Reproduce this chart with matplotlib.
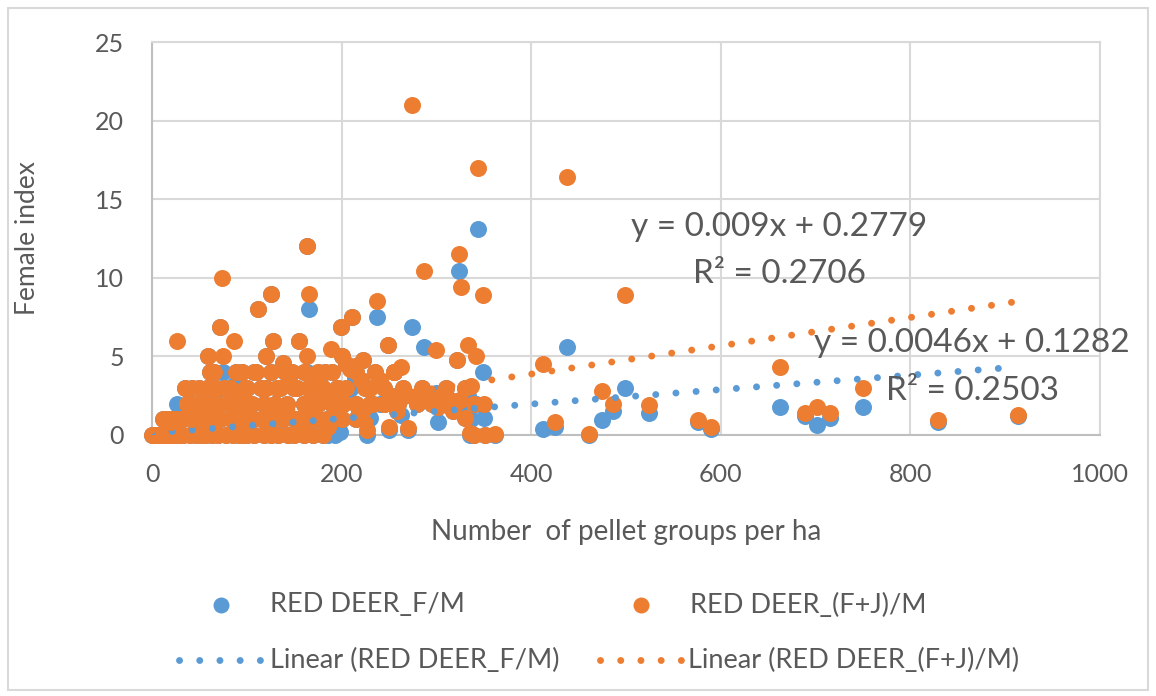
import matplotlib
matplotlib.use("Agg")
import matplotlib.pyplot as plt
from matplotlib.lines import Line2D
from matplotlib.patches import Rectangle
import numpy as np

# pellet groups per ha, F/M index, (F+J)/M index (one entry per site)
pellets = [0, 3, 8, 12, 15, 20, 22, 26, 28, 30, 35, 37, 40, 42, 45, 48, 50, 52, 55, 59,
           61, 63, 65, 68, 72, 74, 75, 76, 78, 80, 83, 85, 87, 89, 92, 95, 98, 100, 103, 106,
           110, 112, 115, 118, 120, 122, 125, 126, 128, 130, 133, 135, 138, 140, 143, 145, 148, 150, 153, 155,
           158, 160, 163, 164, 166, 168, 170, 172, 175, 178, 180, 183, 186, 189, 191, 193, 196, 199, 200, 202,
           205, 209, 211, 214, 218, 220, 223, 227, 230, 233, 237, 240, 245, 249, 250, 253, 255, 258, 263, 266,
           270, 274, 280, 287, 290, 295, 300, 302, 305, 310, 314, 318, 322, 324, 325, 326, 330, 333, 335, 337,
           340, 342, 344, 349, 350, 351, 362, 412, 425, 438, 461, 475, 486, 499, 524, 576, 590, 662, 689, 701,
           715, 750, 829, 913,
           5, 11, 18, 25, 33, 46, 57, 70, 95, 108, 125, 150, 160, 170, 180,
           16, 24, 32, 50, 58, 72, 90, 98, 115, 128, 138, 155, 165, 185, 200, 215, 225,
           40, 55, 62, 70, 85, 92, 105, 118, 130, 142, 160, 175, 190, 215, 230, 245, 260, 280, 300, 320, 340,
           42, 58, 68, 82, 100, 120, 132, 150, 165, 180, 195, 205, 225, 245, 265, 285, 310, 330,
           65, 95, 108, 140, 160, 175, 190, 215, 235, 255, 198]
f_m = [0, 0, 0, 1.0, 0, 1.0, 0, 2.0, 1.0, 0, 3.0, 2.0, 0, 1.0, 1.5, 2.0, 3.0, 0, 1.0, 5.0,
       4.0, 0, 2.0, 1.0, 6.9, 3.0, 4.0, 3.0, 0, 2.0, 1.0, 0, 3.2, 4.0, 0, 2.5, 3.0, 0, 2.0, 1.0,
       4.0, 8.0, 3.0, 0, 5.0, 1.0, 9.0, 4.0, 6.0, 2.0, 0, 3.0, 4.6, 1.5, 0, 3.5, 4.0, 1.0, 3.0, 6.0,
       0.5, 2.0, 4.0, 12.0, 8.0, 3.0, 2.0, 3.5, 1.0, 3.0, 2.5, 4.0, 0, 2.7, 0.1, 0, 3.0, 6.9, 5.0, 2.0,
       4.5, 2.9, 7.5, 3.6, 1.5, 3.5, 4.8, 0, 1.1, 2.0, 7.5, 2.0, 2.0, 5.7, 0.3, 2.5, 4.0, 1.5, 1.3, 2.5,
       0.3, 6.9, 2.0, 5.6, 2.5, 2.0, 2.7, 0.8, 2.5, 2.2, 2.2, 1.5, 4.8, 10.45, 2.2, 2.0, 1.1, 2.5, 0, 1.0,
       0, 2.0, 13.1, 4.0, 1.1, 0, 0, 0.4, 0.5, 5.6, 0, 0.95, 1.5, 3.0, 1.4, 0.8, 0.4, 1.8, 1.2, 0.65,
       1.1, 1.8, 0.8, 1.2,
       0, 0, 0, 0, 0, 0, 0, 0, 0, 0, 0, 0, 0, 0, 0,
       1, 1, 1, 1, 1, 1, 1, 1, 1, 1, 1, 1, 1, 1, 1, 1, 1,
       2, 2, 2, 2, 2, 2, 2, 2, 2, 2, 2, 2, 2, 2, 2, 2, 2, 2, 2, 2, 2,
       3, 3, 3, 3, 3, 3, 3, 3, 3, 3, 3, 3, 3, 3, 3, 3, 3, 3,
       4, 4, 4, 4, 4, 4, 4, 4, 4, 4, 0.2]
fj_m = [0, 0, 0, 1.0, 0, 1.0, 0, 6.0, 1.0, 0, 3.0, 2.0, 0, 1.0, 1.5, 2.0, 3.0, 0, 1.0, 5.0,
        4.0, 0, 2.0, 1.0, 6.9, 10.0, 5.0, 3.0, 0, 2.0, 1.0, 0, 6.0, 4.0, 0, 2.5, 3.0, 0, 2.0, 1.0,
        4.0, 8.0, 3.0, 0, 5.0, 1.0, 9.0, 4.0, 6.0, 2.0, 0, 3.0, 4.6, 1.5, 0, 3.5, 4.0, 1.0, 3.0, 6.0,
        0.5, 2.0, 5.0, 12.0, 9.0, 3.0, 2.0, 3.5, 1.0, 3.0, 2.5, 4.0, 0.5, 5.5, 1.0, 2.0, 3.0, 6.9, 5.0, 2.0,
        4.5, 4.2, 7.5, 4.4, 1.5, 3.5, 4.8, 0.3, 3.0, 2.0, 8.5, 3.5, 2.0, 5.7, 0.5, 2.5, 4.0, 1.5, 4.3, 2.5,
        0.45, 21.0, 2.5, 10.45, 2.5, 2.0, 5.4, 1.8, 2.5, 2.2, 2.2, 1.5, 4.8, 11.5, 2.2, 9.4, 1.1, 5.7, 0.1, 3.1,
        0, 5.0, 17.0, 8.9, 2.0, 0, 0.05, 4.5, 0.8, 16.4, 0.05, 2.8, 2.0, 8.9, 1.9, 0.95, 0.5, 4.3, 1.4, 1.8,
        1.4, 3.0, 0.95, 1.3,
        0, 0, 0, 0, 0, 0, 0, 0, 0, 0, 0, 0, 0, 0, 0,
        1, 1, 1, 1, 1, 1, 1, 1, 1, 1, 1, 1, 1, 1, 1, 1, 1,
        2, 2, 2, 2, 2, 2, 2, 2, 2, 2, 2, 2, 2, 2, 2, 2, 2, 2, 2, 2, 2,
        3, 3, 3, 3, 3, 3, 3, 3, 3, 3, 3, 3, 3, 3, 3, 3, 3, 3,
        4, 4, 4, 4, 4, 4, 4, 4, 4, 4, 2.5]

# trendline coefficients as shown on the chart
trend_fm = (0.0046, 0.1282, 0.2503)
trend_fjm = (0.009, 0.2779, 0.2706)

blue = "#5b9bd5"
orange = "#ed7d31"
txt = "#595959"

plt.rcParams['font.family'] = ['Lato', 'DejaVu Sans']

fig = plt.figure(figsize=(11.56, 6.96), dpi=100)
ax = fig.add_axes([152/1156, 1-435/696, 948/1156, 393/696])

x = np.array(pellets)
ax.scatter(x, f_m, s=150, color=blue, linewidths=0, zorder=3, clip_on=False)
ax.scatter(x, fj_m, s=150, color=orange, linewidths=0, zorder=4, clip_on=False)

xx = np.array([x.min(), x.max()])
dots = dict(linestyle=(0, (0.01, 2.9)), dash_capstyle='round', lw=5)
ax.plot(xx, trend_fm[0]*xx + trend_fm[1], color=blue, zorder=5, **dots)
ax.plot(xx, trend_fjm[0]*xx + trend_fjm[1], color=orange, zorder=5, **dots)

eq = dict(fontsize=24, color=txt, ha='center', va='baseline', zorder=6)
ax.text(662, 12.66, "y = %gx + %g" % trend_fjm[:2], **eq)
ax.text(662, 9.67, "R² = %g" % trend_fjm[2], **eq)
ax.text(865, 5.28, "y = %gx + %g" % trend_fm[:2], **eq)
ax.text(865, 2.23, "R² = %g" % trend_fm[2], **eq)

ax.set_xlim(0, 1000)
ax.set_ylim(0, 25)
ax.set_xticks(range(0, 1001, 200))
ax.set_yticks(range(0, 26, 5))
ax.grid(True, color="#d9d9d9", lw=1.5, zorder=0)
ax.set_axisbelow(True)
for s in ax.spines.values():
    s.set_color("#d9d9d9")
    s.set_linewidth(1.5)
ax.spines['left'].set_color("#bfbfbf")
ax.spines['bottom'].set_color("#bfbfbf")
ax.tick_params(length=0, pad=20, labelsize=18, labelcolor=txt)

ax.set_xlabel("Number  of pellet groups per ha", fontsize=20, color=txt)
ax.set_ylabel("Female index", fontsize=19, color=txt)
ax.xaxis.set_label_coords(0.5, -0.215)
ax.yaxis.set_label_coords(-0.118, 0.5)

# legend drawn by hand to follow the Excel layout
tf = fig.transFigure
r1 = 1 - 605/696
r2 = 1 - 660/696
fig.add_artist(Line2D([221/1156], [r1], transform=tf, marker='o', ms=11.5, color=blue, mew=0, ls='none'))
fig.add_artist(Line2D([641/1156], [r1], transform=tf, marker='o', ms=11.5, color=orange, mew=0, ls='none'))
fig.text(270/1156, r1, "RED DEER_F/M", fontsize=19.5, color=txt, va='center')
fig.text(690/1156, r1, "RED DEER_(F+J)/M", fontsize=19.5, color=txt, va='center')
ldots = dict(linestyle=(0, (0.01, 2.9)), dash_capstyle='round', lw=5)
fig.add_artist(Line2D([179/1156, 262/1156], [r2]*2, transform=tf, color=blue, **ldots))
fig.add_artist(Line2D([600/1156, 683/1156], [r2]*2, transform=tf, color=orange, **ldots))
fig.text(270/1156, r2, "Linear (RED DEER_F/M)", fontsize=19.5, color=txt, va='center')
fig.text(688/1156, r2, "Linear (RED DEER_(F+J)/M)", fontsize=19.5, color=txt, va='center')

fig.add_artist(Rectangle((8/1156, 6/696), 1140/1156, 682/696, transform=tf,
                         fill=False, edgecolor="#d9d9d9", lw=1.5))

fig.savefig("out.png", dpi=100)
